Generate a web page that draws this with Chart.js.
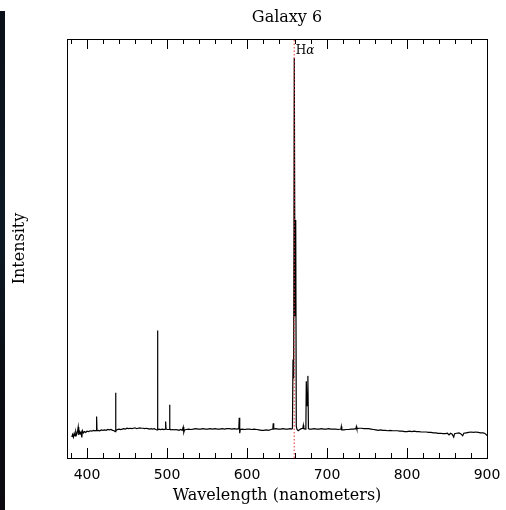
<!DOCTYPE html>
<html>
<head>
<meta charset="utf-8">
<title>Galaxy 6</title>
<script src="https://cdn.jsdelivr.net/npm/chart.js@4.4.1/dist/chart.umd.min.js"></script>
<style>
	html, body { margin: 0; padding: 0; background: #ffffff; }
	#wrap { position: relative; width: 506px; height: 510px; }
	#edge { position: absolute; left: 0; top: 11px; width: 5px; height: 499px;
		background: linear-gradient(#0b1018, #0d1a26 45%, #0a0d12 75%, #0c0a10); }
</style>
</head>
<body>
<div id="wrap">
	<canvas id="spectrum"></canvas>
	<div id="edge"></div>
</div>
<script>
"use strict";

// wavelength (nm) and relative intensity
var wavelengths = [
	381.0, 382.0, 383.0, 384.0, 385.0, 386.0, 387.0, 388.0, 389.0, 389.7,
	390.5, 391.5, 392.5, 393.5, 394.3, 395.5, 397.0, 398.5, 400.0, 402.0,
	404.0, 406.0, 408.0, 410.0, 411.5, 412.0, 412.5, 414.0, 416.0, 418.0,
	420.0, 422.0, 424.0, 426.0, 428.0, 430.0, 432.0, 434.0, 435.2, 435.7,
	436.2, 438.0, 440.0, 442.0, 444.0, 446.0, 448.0, 450.0, 452.0, 454.0,
	456.0, 458.0, 460.0, 462.0, 464.0, 466.0, 468.0, 470.0, 472.0, 474.0,
	476.0, 478.0, 480.0, 482.0, 484.0, 486.0, 487.6, 488.1, 488.6, 490.0,
	492.0, 494.0, 496.0, 497.8, 498.3, 498.8, 500.5, 502.7, 503.2, 503.7,
	505.0, 507.0, 509.0, 511.0, 513.0, 515.0, 517.0, 519.0, 520.3, 521.0,
	522.0, 524.0, 527.0, 530.0, 533.0, 536.0, 539.0, 542.0, 545.0, 548.0,
	551.0, 554.0, 557.0, 560.0, 563.0, 566.0, 569.0, 572.0, 575.0, 578.0,
	581.0, 584.0, 587.0, 589.8, 590.3, 590.9, 591.6, 594.0, 597.0, 600.0,
	603.0, 606.0, 609.0, 612.0, 615.0, 618.0, 621.0, 624.0, 627.0, 630.0,
	632.3, 632.8, 633.4, 636.0, 639.0, 642.0, 645.0, 648.0, 651.0, 654.0,
	656.0, 656.8, 657.5, 658.3, 659.1, 660.0, 660.9, 661.6, 662.5, 664.0,
	666.0, 668.0, 669.8, 670.4, 671.0, 673.0, 673.6, 674.1, 675.1, 676.1,
	676.8, 678.0, 681.0, 684.0, 687.0, 690.0, 693.0, 696.0, 699.0, 702.0,
	705.0, 708.0, 711.0, 714.0, 717.4, 717.9, 718.5, 721.0, 724.0, 727.0,
	730.0, 733.0, 736.2, 736.7, 737.3, 740.0, 743.0, 746.0, 749.0, 752.0,
	755.0, 758.0, 761.0, 764.0, 767.0, 770.0, 773.0, 776.0, 779.0, 782.0,
	785.0, 788.0, 791.0, 794.0, 797.0, 800.0, 803.0, 806.0, 809.0, 812.0,
	815.0, 818.0, 821.0, 824.0, 827.0, 830.0, 833.0, 836.0, 839.0, 842.0,
	845.0, 848.0, 850.5, 852.5, 854.5, 856.5, 858.4, 859.5, 862.0, 865.0,
	867.0, 869.6, 871.0, 874.0, 877.0, 880.0, 883.0, 886.0, 889.0, 892.0,
	895.0, 897.0, 899.0, 900.0
];

var intensities = [
	5.0, 5.6, 5.0, 5.9, 5.3, 6.3, 5.6, 6.1, 7.4, 5.5,
	6.4, 5.8, 6.2, 4.9, 6.5, 6.0, 6.3, 6.1, 6.4, 6.3,
	6.5, 6.4, 6.6, 6.5, 6.6, 9.9, 6.5, 6.6, 6.5, 6.7,
	6.6, 6.7, 6.6, 6.8, 6.7, 6.8, 6.6, 6.5, 6.3, 15.6,
	6.5, 6.8, 6.9, 6.8, 6.9, 7.0, 6.9, 7.1, 7.0, 7.1,
	7.0, 7.1, 7.2, 7.0, 7.1, 7.2, 7.1, 7.1, 7.0, 7.1,
	7.0, 6.9, 7.0, 6.9, 7.0, 6.8, 6.7, 30.4, 6.8, 6.9,
	6.8, 6.9, 6.8, 6.9, 8.7, 6.9, 6.8, 6.8, 12.7, 6.9,
	6.7, 6.8, 6.7, 6.8, 6.7, 6.6, 6.8, 6.6, 7.4, 6.1,
	6.7, 6.8, 6.9, 6.8, 6.9, 7.0, 6.9, 6.9, 7.0, 6.9,
	6.9, 7.0, 6.9, 7.0, 6.9, 6.9, 7.0, 6.9, 7.0, 7.0,
	6.9, 7.0, 6.9, 7.0, 9.6, 5.9, 6.8, 6.9, 6.8, 6.9,
	6.9, 6.8, 6.9, 6.8, 6.7, 6.6, 6.6, 6.7, 6.6, 6.8,
	6.9, 8.3, 6.9, 7.0, 6.9, 6.9, 7.0, 6.9, 6.9, 7.0,
	6.9, 7.1, 23.5, 19.0, 95.5, 34.0, 56.8, 7.6, 6.8, 6.5,
	6.8, 7.0, 7.1, 7.8, 7.0, 6.9, 7.0, 18.3, 12.5, 19.6,
	7.0, 6.9, 6.9, 7.0, 6.9, 6.9, 7.0, 6.9, 6.9, 7.0,
	6.9, 6.9, 6.9, 6.8, 6.9, 7.5, 6.7, 6.7, 6.8, 6.8,
	6.9, 6.9, 7.0, 7.5, 7.0, 7.1, 7.1, 7.0, 7.0, 7.0,
	6.9, 6.8, 6.7, 6.6, 6.7, 6.6, 6.6, 6.5, 6.6, 6.5,
	6.5, 6.5, 6.4, 6.4, 6.3, 6.3, 6.4, 6.3, 6.4, 6.3,
	6.3, 6.2, 6.2, 6.2, 6.1, 6.1, 6.0, 6.0, 5.9, 5.9,
	5.8, 5.8, 5.9, 5.5, 5.9, 5.7, 5.0, 5.8, 5.9, 6.0,
	5.8, 5.3, 5.9, 6.0, 6.1, 6.2, 6.1, 6.2, 6.1, 6.0,
	6.0, 5.9, 5.6, 5.3
];

// axis ticks
var tickValues = [380, 400, 420, 440, 460, 480, 500, 520, 540, 560, 580, 600, 620, 640,
	660, 680, 700, 720, 740, 760, 780, 800, 820, 840, 860, 880, 900];
var majorTicks = [400, 500, 600, 700, 800, 900];

// H-alpha marker
var halphaWavelength = 659.0;
var halphaLabel = "H";
var halphaGreek = "\u03b1";
var chartTitle = "Galaxy 6";

function spectrumPoints() {
	var points = [];
	for (var i = 0; i < wavelengths.length; i++) {
		points.push({x: wavelengths[i], y: intensities[i]});
	}
	return points;
}

var framePlugin = {
	id: "frame",
	afterDraw: function(chart) {
		var ctx = chart.ctx;
		var area = chart.chartArea;
		var xScale = chart.scales.x;

		ctx.save();
		ctx.strokeStyle = "#000000";
		ctx.lineWidth = 1;
		ctx.strokeRect(area.left + 0.5, area.top + 0.5, area.right - area.left, area.bottom - area.top);

		// ticks point inwards, top and bottom
		ctx.beginPath();
		for (var i = 0; i < tickValues.length; i++) {
			var len = majorTicks.indexOf(tickValues[i]) >= 0 ? 10 : 5;
			var px = Math.round(xScale.getPixelForValue(tickValues[i])) + 0.5;
			ctx.moveTo(px, area.bottom);
			ctx.lineTo(px, area.bottom - len);
			ctx.moveTo(px, area.top);
			ctx.lineTo(px, area.top + len);
		}
		ctx.stroke();

		ctx.fillStyle = "#000000";
		ctx.textBaseline = "middle";
		ctx.textAlign = "center";
		ctx.font = "16px 'DejaVu Serif'";
		ctx.fillText(chartTitle, (area.left + area.right) / 2 + 10, 18);

		var hx = xScale.getPixelForValue(halphaWavelength) + 1.5;
		ctx.textAlign = "left";
		ctx.font = "12px 'DejaVu Serif'";
		ctx.fillText(halphaLabel, hx, 51);
		var hw = ctx.measureText(halphaLabel).width;
		ctx.font = "italic 12px 'DejaVu Serif'";
		ctx.fillText(halphaGreek, hx + hw, 51);
		ctx.restore();
	}
};

var ctx = document.getElementById("spectrum");
var spectrumChart = new Chart(ctx, {
	type: "line",
	data: {
		datasets: [
			{
				label: "H-alpha",
				data: [{x: halphaWavelength, y: 0}, {x: halphaWavelength, y: 100}],
				borderColor: "rgb(235,45,45)",
				borderWidth: 1,
				borderDash: [1.5, 2],
				pointRadius: 0
			},
			{
				label: "Spectrum",
				data: spectrumPoints(),
				borderColor: "#000000",
				borderWidth: 1.2,
				pointRadius: 0,
				tension: 0
			}
		]
	},
	options: {
		responsive: true,
		maintainAspectRatio: false,
		animation: false,
		devicePixelRatio: 1,
		layout: { padding: { top: 39, right: 19, left: 0, bottom: 0 } },
		plugins: {
			legend: { display: false },
			tooltip: { enabled: false },
			title: { display: false }
		},
		scales: {
			x: {
				type: "linear",
				min: 375,
				max: 900,
				afterBuildTicks: function(scale) {
					scale.ticks = tickValues.map(function(v) { return {value: v}; });
				},
				afterFit: function(scale) {
					scale.height = 52;
					scale.paddingLeft = 0;
					scale.paddingRight = 0;
				},
				grid: { display: false, drawTicks: false },
				border: { display: false },
				ticks: {
					autoSkip: false,
					maxRotation: 0,
					padding: 9,
					color: "#000000",
					font: { family: "'DejaVu Sans'", size: 14 },
					callback: function(value) {
						return majorTicks.indexOf(value) >= 0 ? String(value) : "";
					}
				},
				title: {
					display: true,
					text: "Wavelength (nanometers)",
					color: "#000000",
					font: { family: "'DejaVu Serif'", size: 16 },
					padding: { top: 0, bottom: 5 }
				}
			},
			y: {
				min: 0,
				max: 100,
				afterFit: function(scale) { scale.width = 67; },
				grid: { display: false, drawTicks: false },
				border: { display: false },
				ticks: { display: false },
				title: {
					display: true,
					text: "Intensity",
					color: "#000000",
					font: { family: "'DejaVu Serif'", size: 16 },
					padding: { top: 10, bottom: 0 }
				}
			}
		}
	},
	plugins: [framePlugin]
});
</script>
</body>
</html>
